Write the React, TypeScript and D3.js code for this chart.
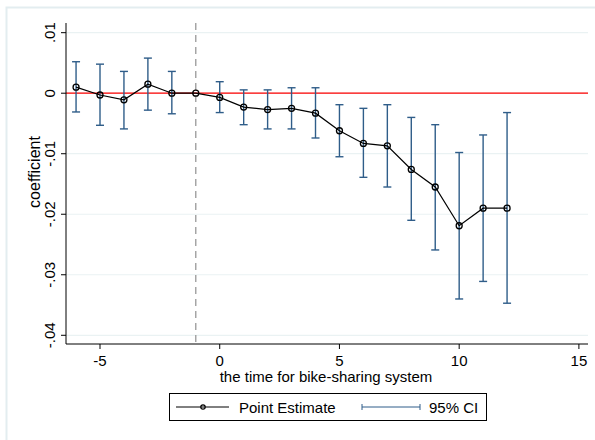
import React from 'react';
import * as d3 from 'd3';

// event time, point estimate and 95% CI bounds
const periods = [-6, -5, -4, -3, -2, -1, 0, 1, 2, 3, 4, 5, 6, 7, 8, 9, 10, 11, 12];
const estimates = [0.001, -0.0003, -0.0011, 0.0015, 0.0, 0.0, -0.0007, -0.0023, -0.0027, -0.0025, -0.0033, -0.0062, -0.0083, -0.0087, -0.0126, -0.0155, -0.0219, -0.019, -0.019];
const ciLow = [-0.0031, -0.0053, -0.0059, -0.0028, -0.0034, 0.0, -0.0032, -0.0052, -0.0059, -0.0059, -0.0074, -0.0105, -0.0139, -0.0155, -0.021, -0.0259, -0.034, -0.0311, -0.0347];
const ciHigh = [0.0052, 0.0048, 0.0036, 0.0058, 0.0036, 0.0, 0.0019, 0.00055, 0.00055, 0.0009, 0.0009, -0.0019, -0.0025, -0.0019, -0.004, -0.0052, -0.0098, -0.0069, -0.0032];

const xTicks = [-5, 0, 5, 10, 15];
const yTicks = [0.01, 0, -0.01, -0.02, -0.03, -0.04];
const yTickLabels = ['.01', '0', '-.01', '-.02', '-.03', '-.04'];

const treatLine = -1;

const font = 'Arial, "Liberation Sans", sans-serif';
const ciColor = '#2f5d89';

const App = () => {
  const width = 595;
  const height = 440;
  const left = 66;
  const right = 588;
  const top = 23;
  const bottom = 344;

  const x = d3.scaleLinear().domain([-6.42, 15.38]).range([left, right]);
  const y = d3.scaleLinear().domain([-0.04144, 0.0116]).range([bottom, top]);

  const line = d3.line<number>()
    .x((d, i) => x(periods[i]))
    .y(d => y(d));

  const cap = 4;

  return (
    <svg width={width} height={height} style={{ position: 'absolute', left: 0, top: 0, background: '#fff' }}>
      {/* outer frame */}
      <rect x={6.5} y={7.5} width={600} height={440} fill="none" stroke="#e3edf0" strokeWidth={2} />

      {/* grid */}
      {yTicks.map(t => (
        <line key={t} x1={left} x2={right} y1={y(t)} y2={y(t)} stroke="#eaf2f3" strokeWidth={1.2} />
      ))}

      {/* zero line */}
      <line x1={left} x2={right} y1={y(0)} y2={y(0)} stroke="#ff0000" strokeWidth={1.3} />

      {/* treatment line */}
      <line x1={x(treatLine)} x2={x(treatLine)} y1={top} y2={bottom} stroke="#999" strokeWidth={1.3} strokeDasharray="7,5" />

      {/* confidence intervals */}
      {periods.map((p, i) => ciHigh[i] === ciLow[i] ? null : (
        <g key={p} stroke={ciColor} strokeWidth={1.4}>
          <line x1={x(p)} x2={x(p)} y1={y(ciLow[i])} y2={y(ciHigh[i])} />
          <line x1={x(p) - cap} x2={x(p) + cap} y1={y(ciLow[i])} y2={y(ciLow[i])} />
          <line x1={x(p) - cap} x2={x(p) + cap} y1={y(ciHigh[i])} y2={y(ciHigh[i])} />
        </g>
      ))}

      {/* point estimates */}
      <path d={line(estimates) || ''} fill="none" stroke="#000" strokeWidth={1.2} />
      {periods.map((p, i) => (
        <circle key={p} cx={x(p)} cy={y(estimates[i])} r={3} fill="none" stroke="#000" strokeWidth={1.3} />
      ))}

      {/* axes */}
      <line x1={left} x2={left} y1={top} y2={bottom} stroke="#000" strokeWidth={1} />
      <line x1={left} x2={right} y1={bottom} y2={bottom} stroke="#000" strokeWidth={1} />
      {yTicks.map((t, i) => (
        <g key={t}>
          <line x1={left - 5} x2={left} y1={y(t)} y2={y(t)} stroke="#000" />
          <text transform={`translate(${left - 11},${y(t)}) rotate(-90)`} textAnchor="middle" fontFamily={font} fontSize={15}>
            {yTickLabels[i]}
          </text>
        </g>
      ))}
      {xTicks.map(t => (
        <g key={t}>
          <line x1={x(t)} x2={x(t)} y1={bottom} y2={bottom + 5} stroke="#000" />
          <text x={x(t)} y={bottom + 22} textAnchor="middle" fontFamily={font} fontSize={15}>{t}</text>
        </g>
      ))}

      <text x={326} y={382} textAnchor="middle" fontFamily={font} fontSize={15}>
        the time for bike-sharing system
      </text>
      <text transform="translate(40,172) rotate(-90)" textAnchor="middle" fontFamily={font} fontSize={16}>
        coefficient
      </text>

      {/* legend */}
      <rect x={169.5} y={393.5} width={317} height={27} fill="#fff" stroke="#000" strokeWidth={1} />
      <line x1={176} x2={229} y1={407} y2={407} stroke="#000" strokeWidth={1} />
      <circle cx={203} cy={407} r={2.2} fill="none" stroke="#000" strokeWidth={1.2} />
      <text x={239} y={412.5} fontFamily={font} fontSize={15}>Point Estimate</text>
      <line x1={362} x2={420} y1={407} y2={407} stroke={ciColor} strokeWidth={1} />
      <line x1={362} x2={362} y1={404} y2={410} stroke={ciColor} strokeWidth={1} />
      <line x1={420} x2={420} y1={404} y2={410} stroke={ciColor} strokeWidth={1} />
      <text x={429} y={412.5} fontFamily={font} fontSize={15}>95% CI</text>
    </svg>
  );
};

export default App;
